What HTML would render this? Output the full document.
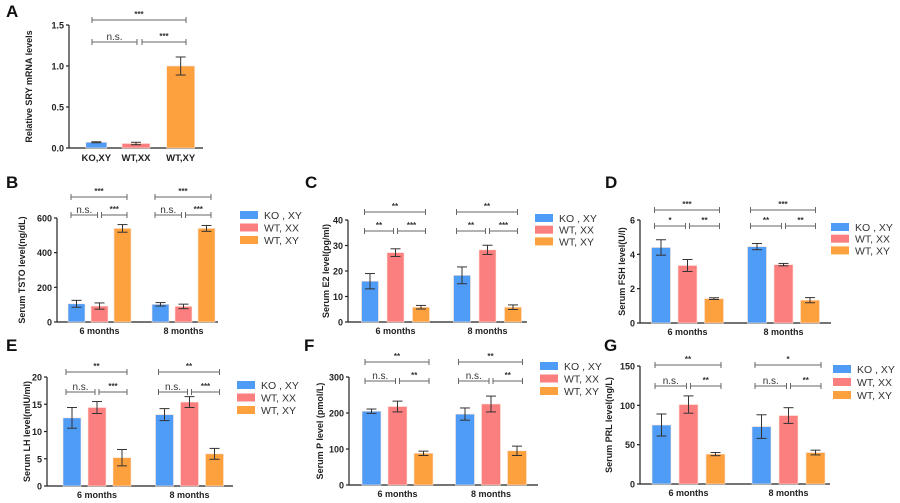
<!DOCTYPE html>
<html><head><meta charset="utf-8"><style>
body{margin:0;background:#fff}
svg{display:block;font-family:"Liberation Sans",Arial,sans-serif}
</style></head><body>
<svg id="fig" width="900" height="503" viewBox="0 0 900 503"></svg>
<script>
const groupNames=["6 months","8 months"];
const seriesNames=["KO , XY","WT, XX","WT, XY"];
const colors=["#4f9cf6","#fb7f7f","#fda03e"];
const aCats=["KO,XY","WT,XX","WT,XY"];
const aMeans=[0.07,0.055,1.0];
const aErrs=[0.006,0.015,0.11];
const aTicks=[0,0.5,1.0,1.5];
const bMeans=[[105,92,540],[102,90,540]];
const bErrs=[[20,18,22],[10,13,17]];
const bTicks=[0,200,400,600];
const bSig=[["n.s.","***","***"],["n.s.","***","***"]];
const cMeans=[[16,27.2,5.8],[18.3,28.3,5.8]];
const cErrs=[[3,1.5,0.7],[3.3,1.8,0.9]];
const cTicks=[0,10,20,30,40];
const cSig=[["**","***","**"],["**","***","**"]];
const dMeans=[[4.4,3.35,1.42],[4.45,3.4,1.33]];
const dErrs=[[0.45,0.35,0.05],[0.18,0.07,0.15]];
const dTicks=[0,2,4,6];
const dSig=[["*","**","***"],["**","**","***"]];
const eMeans=[[12.5,14.4,5.2],[13.1,15.4,5.9]];
const eErrs=[[1.9,1.1,1.5],[1.1,1.0,1.0]];
const eTicks=[0,5,10,15,20];
const eSig=[["n.s.","***","**"],["n.s.","***","**"]];
const fMeans=[[205,218,88],[197,225,95]];
const fErrs=[[6,15,6],[17,22,13]];
const fTicks=[0,100,200,300];
const fSig=[["n.s.","**","**"],["n.s.","**","**"]];
const gMeans=[[75,101,38],[73,87,40]];
const gErrs=[[14,11,2],[15,10,3]];
const gTicks=[0,50,100,150];
const gSig=[["n.s.","**","**"],["n.s.","**","*"]];

const svg=document.getElementById('fig');
const NS='http://www.w3.org/2000/svg';
function mk(tag,attrs,parent,text){const e=document.createElementNS(NS,tag);for(const k in attrs)e.setAttribute(k,attrs[k]);if(text!==undefined)e.textContent=text;(parent||svg).appendChild(e);return e;}
function line(g,x1,y1,x2,y2,c,w){return mk('line',{x1,y1,x2,y2,stroke:c||'#222','stroke-width':w||1},g);}

function axisY(g,L,ticks,title){
  const ys=v=>L.y0-(v/L.max)*(L.y0-L.yTop);
  line(g,L.x0,L.y0,L.x0,L.yTop,'#222',1.2);
  line(g,L.x0,L.y0,L.xEnd,L.y0,'#222',1.2);
  ticks.forEach(t=>{const y=ys(t);line(g,L.x0-3,y,L.x0,y,'#222',1.2);
    const tx=mk('text',{x:L.x0-5,y:y+3.5,'text-anchor':'end','font-size':9,'font-weight':'bold',fill:'#222'},g,L.fmt?L.fmt(t):String(t));
    
    });
  const tt=mk('text',{transform:`translate(${L.tx},${(L.y0+L.yTop)/2}) rotate(-90)`,'text-anchor':'middle','font-size':9,'font-weight':'bold',fill:'#222'},g,title);
  
  
  return ys;
}
function bar(g,cx,w,v,err,ys,col){
  const y=ys(v);
  const r=mk('rect',{x:cx-w/2,y:y,width:w,height:ys(0)-y,fill:col,stroke:'#fde5d8','stroke-width':0.6},g);
  
  
  const yt=ys(v+err),yb=ys(Math.max(0,v-err));
  line(g,cx,yt,cx,yb,'#333',1);line(g,cx-5,yt,cx+5,yt,'#333',1);line(g,cx-5,yb,cx+5,yb,'#333',1);
}
function bracket(g,x1,x2,y,label){
  const b=mk('g',{},g);
  
  
  line(b,x1,y,x2,y,'#666',1);line(b,x1,y-3,x1,y+3,'#666',1);line(b,x2,y-3,x2,y+3,'#666',1);
  const ns=label==='n.s.';
  mk('text',{x:(x1+x2)/2,y:ns?y-2:y-3,'text-anchor':'middle','font-size':ns?10:8,'font-weight':ns?'normal':'bold',fill:'#333'},b,label);
}
function panel(name,letter,lx,ly,L,means,errs,ticks,sig,title){
  const g=mk('g',{});
  
  
  const lt=mk('text',{x:lx,y:ly,'font-size':17,'font-weight':'bold',fill:'#111'},g,letter);
  
  
  const ys=axisY(g,L,ticks,title);
  means.forEach((grp,gi)=>{
    const c=L.centers[gi];
    grp.forEach((v,si)=>bar(g,c+(si-1)*L.step,L.w,v,errs[gi][si],ys,colors[si]));
    const xl=c-L.step-L.w/2+3, xr=c+L.step+L.w/2-4;
    bracket(g,xl,c-2,L.sLow,sig[gi][0]);
    bracket(g,c+2,xr,L.sLow,sig[gi][1]);
    bracket(g,xl,xr,L.sTop,sig[gi][2]);
    const xt=mk('text',{x:c,y:L.y0+12,'text-anchor':'middle','font-size':9,'font-weight':'bold',fill:'#222'},g,groupNames[gi]);
    
    
  });
  const lg=mk('g',{},g);
  
  
  seriesNames.forEach((s,i)=>{
    const y=L.legY+i*L.legDy;
    const e=mk('g',{},lg);
    
    
    mk('rect',{x:L.legX,y:y-4,width:18,height:8,fill:colors[i]},e);
    mk('text',{x:L.legX+24,y:y+4,'font-size':10.5,fill:'#333'},e,s);
  });
}
// Panel A
(function(){
  const g=mk('g',{});
  
  
  const lt=mk('text',{x:6,y:17,'font-size':17,'font-weight':'bold',fill:'#111'},g,'A');
  
  
  const L={x0:69,xEnd:203,y0:148,yTop:25,max:1.5,tx:32,fmt:t=>t.toFixed(1)};
  const ys=axisY(g,L,aTicks,'Relative SRY mRNA levels');
  const band=(L.xEnd-L.x0)/aCats.length;
  const cx=i=>L.x0+band*(i+0.5);
  aCats.forEach((c,i)=>{
    bar(g,cx(i)+(i===0?5:0),i===0?21:28,aMeans[i],aErrs[i],ys,colors[i]);
    const xt=mk('text',{x:cx(i)+(i===0?5:0),y:161,'text-anchor':'middle','font-size':9.5,'font-weight':'bold',fill:'#222'},g,c);
    
    
  });
  bracket(g,92,137,42,'n.s.');
  bracket(g,142,186,42,'***');
  bracket(g,92,186,20,'***');
})();
panel('b','B',6,188,{x0:57,xEnd:218,y0:322,yTop:218,max:600,tx:25,centers:[99.5,183.5],step:23,w:17,sLow:215,sTop:197,legX:240,legY:215,legDy:12.5},bMeans,bErrs,bTicks,bSig,'Serum TSTO level(ng/dL)');
panel('c','C',305,188,{x0:348,xEnd:527,y0:322,yTop:220,max:40,tx:329,centers:[395.5,487.5],step:25.5,w:17,sLow:231,sTop:212,legX:535,legY:218,legDy:11.7},cMeans,cErrs,cTicks,cSig,'Serum E2 level(pg/ml)');
panel('d','D',605,188,{x0:640,xEnd:831,y0:323,yTop:220,max:6,tx:625,centers:[687.5,783.5],step:26.5,w:19,sLow:226,sTop:210,legX:831,legY:227,legDy:11.7},dMeans,dErrs,dTicks,dSig,'Serum FSH level(U/l)');
panel('e','E',6,351,{x0:47,xEnd:233,y0:486,yTop:377,max:20,tx:30,centers:[97,189.5],step:25,w:18,sLow:392,sTop:372,legX:237,legY:385,legDy:12.5},eMeans,eErrs,eTicks,eSig,'Serum LH level(mIU/ml)');
panel('f','F',304,351,{x0:349,xEnd:538,y0:485,yTop:377,max:300,tx:323,centers:[397.5,491],step:26,w:19,sLow:381,sTop:362,legX:540,legY:366,legDy:12.5},fMeans,fErrs,fTicks,fSig,'Serum P level (pmol/L)');
panel('g','G',604,351,{x0:640,xEnd:830,y0:484,yTop:366,max:150,tx:612,centers:[688.5,788.5],step:27,w:19,sLow:386,sTop:365,legX:833,legY:369,legDy:13},gMeans,gErrs,gTicks,gSig,'Serum PRL level(ng/L)');
</script>
</body></html>
